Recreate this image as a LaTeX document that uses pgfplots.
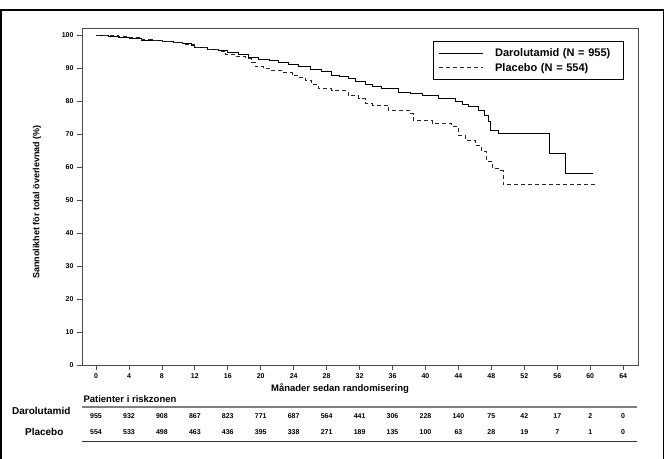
\documentclass[border=0pt]{standalone}
\usepackage{fontspec}
\setmainfont{Liberation Sans}
\usepackage{pgfplots}
\usepackage{pgfplotstable}
\pgfplotsset{compat=1.18}

% Kaplan-Meier steps
\pgfplotstableread{
t     s
0     100
1.5   99.7
2.7   99.3
4.0   99.0
5.5   98.6
6.8   98.4
8.0   98.2
9.4   97.9
10.5  97.5
11.6  97.1
12.0  96.4
13.5  95.9
14.9  95.4
16.0  94.8
17.3  94.2
18.5  93.5
19.7  92.8
21.0  92.4
22.1  92.0
23.3  91.2
24.6  90.5
26.0  89.8
27.4  89.2
28.6  88.0
29.6  87.5
30.6  87.0
31.5  86.1
32.7  85.2
33.5  84.6
34.7  83.9
36.7  82.9
38.2  82.4
39.6  81.9
41.6  80.9
43.6  79.9
44.5  79.0
45.2  78.4
46.4  77.3
47.2  75.8
47.6  73.8
47.85 71.3
48.9  70.3
55.05 64.2
57.0  58.1
60.3  58.1
}\darolutamid

\pgfplotstableread{
t     s
0     100
1.5   100
2.7   99.8
4.0   99.3
5.5   98.8
6.8   98.6
8.0   98.2
9.4   97.9
10.5  97.4
12.0  96.4
13.5  95.8
14.9  95.3
15.7  94.2
17.0  93.6
18.1  93.0
18.9  92.0
19.3  90.5
20.3  90.0
21.3  89.5
22.5  88.8
23.8  88.0
24.6  87.2
25.4  86.4
26.2  85.2
27.0  83.9
28.6  83.4
30.6  81.9
31.9  80.9
32.7  79.4
33.5  78.9
35.5  77.3
38.1  76.3
38.5  74.3
40.8  73.3
43.2  72.3
44.0  69.7
44.9  68.2
46.1  66.7
46.8  64.7
47.4  61.7
48.1  59.6
49.1  59.1
49.4  54.9
60.8  54.9
}\placebo

% patienter i riskzonen (row position in axis units)
\pgfplotstableread{
t   row    n
0   -15.5  955
4   -15.5  932
8   -15.5  908
12  -15.5  867
16  -15.5  823
20  -15.5  771
24  -15.5  687
28  -15.5  564
32  -15.5  441
36  -15.5  306
40  -15.5  228
44  -15.5  140
48  -15.5  75
52  -15.5  42
56  -15.5  17
60  -15.5  2
64  -15.5  0
}\riskD

\pgfplotstableread{
t   row    n
0   -20.3  554
4   -20.3  533
8   -20.3  498
12  -20.3  463
16  -20.3  436
20  -20.3  395
24  -20.3  338
28  -20.3  271
32  -20.3  189
36  -20.3  135
40  -20.3  100
44  -20.3  63
48  -20.3  28
52  -20.3  19
56  -20.3  7
60  -20.3  1
64  -20.3  0
}\riskP

\begin{document}
\begin{tikzpicture}[x=1pt,y=1pt]
\path[use as bounding box] (0,0) rectangle (666,458);
\draw[line width=1.3pt] (1,-10) rectangle (663.5,448);

\begin{axis}[
    at={(82pt,93pt)}, anchor=south west,
    scale only axis, width=556pt, height=336pt,
    xmin=-1.7, xmax=65.8, ymin=0, ymax=102,
    xtick={0,4,...,64}, ytick={0,10,...,100},
    xtick pos=bottom, ytick pos=left,
    tick align=outside, major tick length=5pt,
    tick style={gray!60!black, line width=0.8pt},
    axis line style={gray!60!black, line width=1pt},
    /pgf/number format/assume math mode=true,
    ticklabel style={font=\bfseries\fontsize{7}{8}\selectfont},
    xlabel={Månader sedan randomisering},
    ylabel={Sannolikhet för total överlevnad (\%)},
    every axis x label/.style={at={(axis description cs:0.464,-0.071)}, anchor=center,
        font=\bfseries\fontsize{9.5}{10}\selectfont},
    every axis y label/.style={at={(axis description cs:-0.081,0.485)}, anchor=center, rotate=90,
        font=\bfseries\fontsize{9}{10}\selectfont},
    clip=false,
    legend image code/.code={\draw[#1] (0pt,0pt) -- (44pt,0pt);},
    legend style={at={(axis description cs:0.631,0.964)}, anchor=north west,
        draw=black, line width=1pt, inner xsep=5pt, inner ysep=5pt,
        font=\bfseries\fontsize{11}{12}\selectfont, row sep=1pt,
        /tikz/every odd column/.append style={column sep=10pt},
        /tikz/every even column/.append style={text width=121pt}},
    legend cell align=left,
]
\addplot[const plot, black, line width=0.8pt] table[x=t, y=s] {\darolutamid};
\addlegendentry{Darolutamid (N = 955)}
\addplot[const plot, black!85, line width=0.8pt, dash pattern=on 4pt off 3pt] table[x=t, y=s] {\placebo};
\addlegendentry{Placebo (N = 554)}

\addplot[draw=none, mark=none, forget plot, nodes near coords, point meta=explicit symbolic,
    every node near coord/.style={anchor=center, font=\bfseries\fontsize{7}{8}\selectfont}]
    table[x=t, y=row, meta=n] {\riskD};
\addplot[draw=none, mark=none, forget plot, nodes near coords, point meta=explicit symbolic,
    every node near coord/.style={anchor=center, font=\bfseries\fontsize{7}{8}\selectfont}]
    table[x=t, y=row, meta=n] {\riskP};
\end{axis}

\node[anchor=west, font=\bfseries\fontsize{9.5}{10}\selectfont] at (80,59) {Patienter i riskzonen};
\draw[gray, line width=1.5pt] (82,51) -- (637,51);
\draw[black!80, line width=1pt] (82,17) -- (637,17);
\node[anchor=east, font=\bfseries\fontsize{10}{11}\selectfont] at (74,47) {Darolutamid};
\node[anchor=east, font=\bfseries\fontsize{10}{11}\selectfont] at (67,26) {Placebo};
\end{tikzpicture}
\end{document}
